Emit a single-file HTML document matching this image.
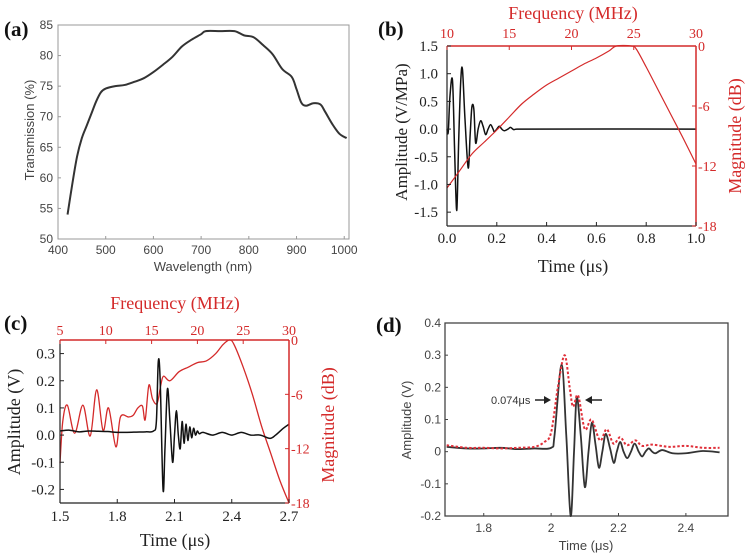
<!DOCTYPE html>
<html><head><meta charset="utf-8"><style>
html,body{margin:0;padding:0;background:#fff}
svg{display:block}
.sans{font-family:"Liberation Sans",sans-serif}
.serif{font-family:"Liberation Serif",serif}
</style></head><body>
<svg id="fig" width="748" height="557" viewBox="0 0 748 557" xmlns="http://www.w3.org/2000/svg">
<text x="4" y="36" class="serif" font-size="21" font-weight="bold" fill="#111">(a)</text>
<text x="378" y="36" class="serif" font-size="21" font-weight="bold" fill="#111">(b)</text>
<text x="4" y="330" class="serif" font-size="21" font-weight="bold" fill="#111">(c)</text>
<text x="376" y="332" class="serif" font-size="21" font-weight="bold" fill="#111">(d)</text>
<g id="pa"></g>
<g id="pb"></g>
<g id="pc"></g>
<g id="pd"></g>
</svg>
<script>
// ---- Panel (a) data
const aWavelength=[420,430,440,450,460,470,480,490,500,520,540,560,580,600,620,640,660,680,700,710,740,770,790,810,830,850,870,890,900,910,920,935,950,960,975,990,1005];
const aTransmission=[54,59,63.5,66.5,68.5,70.5,72.5,74,74.6,75,75.2,75.7,76.3,77.3,78.5,79.8,81.5,82.6,83.5,84,84,84,83.3,83,81.7,80.2,77.8,76.5,74.5,72.3,71.8,72.2,72,70.8,68.8,67.2,66.5];
const aXTicks=[400,500,600,700,800,900,1000];
const aYTicks=[50,55,60,65,70,75,80,85];
// ---- Panel (b) data
const bTime=[0,0.005,0.012,0.022,0.03,0.035,0.04,0.047,0.055,0.062,0.072,0.085,0.093,0.1,0.108,0.115,0.125,0.135,0.145,0.155,0.165,0.175,0.185,0.19,0.2,0.21,0.22,0.23,0.245,0.255,0.268,0.28,1.0];
const bAmp=[0,-0.05,0.6,0.88,-0.3,-1.1,-1.43,-0.2,0.85,1.08,0.2,-0.7,-0.1,0.4,0.35,-0.25,0.0,0.15,0.05,-0.1,0.0,0.08,0.0,-0.05,0.0,0.05,0.0,-0.03,0.0,0.03,-0.01,0,0];
const bFreq=[10,11,12,13,14,15,16,17,18,19,20,21,22,23,23.6,24.8,25.2,26,27,28,29,30];
const bMag=[-14.2,-12.5,-10.8,-9.6,-8.4,-7.1,-5.8,-4.8,-3.9,-3.2,-2.5,-1.8,-1.2,-0.5,0,0,-0.3,-2.1,-4.5,-6.9,-9.3,-11.8];
const bXTicks=[0,0.2,0.4,0.6,0.8,1.0];
const bYTicks=[-1.5,-1.0,-0.5,0.0,0.5,1.0,1.5];
const bFTicks=[10,15,20,25,30];
const bDbTicks=[0,-6,-12,-18];
// ---- Panel (c) data
const cTime=[1.5,1.55,1.6,1.65,1.7,1.75,1.8,1.85,1.9,1.95,1.99,2.005,2.015,2.025,2.04,2.05,2.063,2.076,2.09,2.1,2.11,2.12,2.13,2.14,2.15,2.16,2.17,2.18,2.19,2.2,2.21,2.22,2.23,2.25,2.3,2.35,2.4,2.45,2.5,2.55,2.6,2.63,2.67,2.7];
const cAmp=[0.015,0.018,0.012,0.015,0.014,0.013,0.01,0.01,0.011,0.012,0.015,0.05,0.27,0.2,-0.2,-0.05,0.17,0.05,-0.1,0.0,0.09,0.0,-0.05,0.05,-0.03,0.04,-0.02,0.03,-0.01,0.025,0.0,0.015,0.005,0.01,0.0,0.01,0.0,0.01,0.0,0.0,-0.012,0.0,0.025,0.04];
const cFreq=[5,5.3,5.8,6.6,7.5,8.3,9,9.7,10.3,11.1,11.6,12.5,13,13.5,14,14.3,14.7,15.1,15.6,16,16.3,17,18,19,20,21,22,22.8,23.5,24,25,26,27,28,29,30];
const cMag=[-13.6,-9,-7.2,-10.3,-7.2,-10.6,-5.5,-10,-7.5,-11.8,-8.5,-8.5,-8.3,-7.5,-7.3,-8.8,-5.0,-6.5,-7,-5,-4,-4.5,-3.5,-3,-2.5,-2.3,-1.5,-0.5,0,-0.5,-3,-6,-9.5,-12.5,-15.5,-18];
const cXTicks=[1.5,1.8,2.1,2.4,2.7];
const cYTicks=[-0.2,-0.1,0.0,0.1,0.2,0.3];
const cFTicks=[5,10,15,20,25,30];
const cDbTicks=[0,-6,-12,-18];
// ---- Panel (d) data
const dTime=[1.69,1.75,1.8,1.85,1.9,1.95,2.0,2.01,2.031,2.045,2.058,2.068,2.076,2.088,2.1,2.111,2.121,2.132,2.142,2.152,2.162,2.175,2.186,2.195,2.205,2.215,2.226,2.237,2.248,2.26,2.27,2.28,2.29,2.3,2.31,2.33,2.36,2.4,2.45,2.5];
const dAmp=[0.015,0.01,0.01,0.012,0.008,0.01,0.012,0.05,0.27,0.05,-0.2,0.0,0.17,0.05,-0.11,0.0,0.09,0.02,-0.05,0.0,0.055,0.01,-0.035,0.0,0.03,0.0,-0.02,0.0,0.025,0.0,-0.015,0.0,0.01,0.0,-0.005,0.005,-0.005,-0.005,0.002,-0.002];
const dRedTime=[1.69,1.75,1.8,1.85,1.9,1.95,1.98,2.0,2.02,2.04,2.055,2.065,2.08,2.1,2.12,2.145,2.165,2.185,2.205,2.225,2.25,2.27,2.3,2.35,2.4,2.45,2.5];
const dRedAmp=[0.02,0.012,0.012,0.01,0.012,0.015,0.03,0.06,0.2,0.3,0.2,0.14,0.175,0.07,0.1,0.035,0.07,0.025,0.045,0.02,0.035,0.018,0.022,0.015,0.018,0.012,0.012];
const dXTicks=[1.8,2.0,2.2,2.4];
const dXTickLabels=["1.8","2","2.2","2.4"];
const dYTicks=[-0.2,-0.1,0,0.1,0.2,0.3,0.4];
const dYTickLabels=["-0.2","-0.1","0","0.1","0.2","0.3","0.4"];

const NS="http://www.w3.org/2000/svg";
function mk(parent,tag,attrs,text){const e=document.createElementNS(NS,tag);for(const k in attrs)e.setAttribute(k,attrs[k]);if(text!==undefined)e.textContent=text;parent.appendChild(e);return e;}
function lin(d0,d1,r0,r1){return v=>r0+(v-d0)/(d1-d0)*(r1-r0);}
function pathD(xs,ys,fx,fy){
 const P=xs.map((x,i)=>[fx(x),fy(ys[i])]);
 let d='M'+P[0][0].toFixed(2)+','+P[0][1].toFixed(2);
 for(let i=0;i<P.length-1;i++){
  const p0=P[Math.max(i-1,0)],p1=P[i],p2=P[i+1],p3=P[Math.min(i+2,P.length-1)];
  let c1x=p1[0]+(p2[0]-p0[0])/6,c1y=p1[1]+(p2[1]-p0[1])/6;
  let c2x=p2[0]-(p3[0]-p1[0])/6,c2y=p2[1]-(p3[1]-p1[1])/6;
  c1x=Math.min(Math.max(c1x,p1[0]),p2[0]);c2x=Math.min(Math.max(c2x,p1[0]),p2[0]);
  d+='C'+c1x.toFixed(2)+','+c1y.toFixed(2)+' '+c2x.toFixed(2)+','+c2y.toFixed(2)+' '+p2[0].toFixed(2)+','+p2[1].toFixed(2);
 }
 return d;}
const RED="#d42a2a";

// ===== Panel A
(function(){
const g=document.getElementById('pa');
const L=58,R=349,T=25,B=239;
const x=lin(400,1010,L,R), y=lin(50,85,B,T);
const box=mk(g,'rect',{x:L,y:T,width:R-L,height:B-T,fill:'none',stroke:'#999','stroke-width':1});


aXTicks.forEach(v=>{mk(g,'line',{x1:x(v),x2:x(v),y1:B,y2:B-3,stroke:'#999'});
 const t=mk(g,'text',{x:x(v),y:254,'text-anchor':'middle','font-size':12,fill:'#444',class:'sans'},String(v));
 
 });
aYTicks.forEach(v=>{mk(g,'line',{x1:L,x2:L+3,y1:y(v),y2:y(v),stroke:'#999'});
 const t=mk(g,'text',{x:53,y:y(v)+4,'text-anchor':'end','font-size':12,fill:'#444',class:'sans'},String(v));
 
 });
const xl=mk(g,'text',{x:203,y:271,'text-anchor':'middle','font-size':13,fill:'#444',class:'sans'},'Wavelength (nm)');


const yl=mk(g,'text',{x:0,y:0,transform:'translate(34,130) rotate(-90)','text-anchor':'middle','font-size':13,fill:'#444',class:'sans'},'Transmission (%)');


const p=mk(g,'path',{d:pathD(aWavelength,aTransmission,x,y),fill:'none',stroke:'#333','stroke-width':2,'stroke-linejoin':'round'});


})();

// ===== Panel B
(function(){
const g=document.getElementById('pb');
const L=447,R=696,T=46,B=226;
const x=lin(0,1,L,R), y=lin(-1.75,1.5,B,T), xf=lin(10,30,L,R), yd=lin(-18,0,B,T);
const blk=mk(g,'path',{d:pathD(bTime,bAmp,x,y),fill:'none',stroke:'#111','stroke-width':1.5});


const red=mk(g,'path',{d:pathD(bFreq,bMag,xf,yd),fill:'none',stroke:RED,'stroke-width':1.2});


mk(g,'line',{x1:L,x2:L,y1:T,y2:B,stroke:'#222','stroke-width':1.2});
mk(g,'line',{x1:L,x2:R,y1:B,y2:B,stroke:'#222','stroke-width':1.2});
mk(g,'line',{x1:L,x2:R,y1:T,y2:T,stroke:RED,'stroke-width':1.5});
mk(g,'line',{x1:R,x2:R,y1:T,y2:B,stroke:RED,'stroke-width':1.5});
bXTicks.forEach(v=>{mk(g,'line',{x1:x(v),x2:x(v),y1:B,y2:B-4,stroke:'#222'});
 const t=mk(g,'text',{x:x(v),y:243,'text-anchor':'middle','font-size':15,fill:'#222',class:'serif'},v.toFixed(1));
 
 });
bYTicks.forEach(v=>{mk(g,'line',{x1:L,x2:L+4,y1:y(v),y2:y(v),stroke:'#222'});
 const t=mk(g,'text',{x:438,y:y(v)+5,'text-anchor':'end','font-size':15,fill:'#222',class:'serif'},v.toFixed(1));
 
 });
bFTicks.forEach(v=>{mk(g,'line',{x1:xf(v),x2:xf(v),y1:T,y2:T+4,stroke:RED});
 const t=mk(g,'text',{x:xf(v),y:38,'text-anchor':'middle','font-size':14,fill:RED,class:'serif'},String(v));
 
 });
bDbTicks.forEach(v=>{mk(g,'line',{x1:R,x2:R-4,y1:yd(v),y2:yd(v),stroke:RED});
 const t=mk(g,'text',{x:698,y:yd(v)+5,'text-anchor':'start','font-size':14,fill:RED,class:'serif'},String(v));
 
 });
const ft=mk(g,'text',{x:573,y:19,'text-anchor':'middle','font-size':18,fill:RED,class:'serif'},'Frequency (MHz)');


const tt=mk(g,'text',{x:573,y:272,'text-anchor':'middle','font-size':18,fill:'#222',class:'serif'},'Time (μs)');


const yt=mk(g,'text',{x:0,y:0,transform:'translate(407,132) rotate(-90)','text-anchor':'middle','font-size':17,fill:'#222',class:'serif'},'Amplitude (V/MPa)');


const mt=mk(g,'text',{x:0,y:0,transform:'translate(741,136) rotate(-90)','text-anchor':'middle','font-size':18,fill:RED,class:'serif'},'Magnitude (dB)');


})();

// ===== Panel C
(function(){
const g=document.getElementById('pc');
const L=60,R=289,T=340,B=503;
const x=lin(1.5,2.7,L,R), y=lin(-0.25,0.35,B,T), xf=lin(5,30,L,R), yd=lin(-18,0,B,T);
const red=mk(g,'path',{d:pathD(cFreq,cMag,xf,yd),fill:'none',stroke:RED,'stroke-width':1.3});


const blk=mk(g,'path',{d:pathD(cTime,cAmp,x,y),fill:'none',stroke:'#111','stroke-width':1.5});


mk(g,'line',{x1:L,x2:L,y1:T,y2:B,stroke:'#222','stroke-width':1.2});
mk(g,'line',{x1:L,x2:R,y1:B,y2:B,stroke:'#222','stroke-width':1.2});
mk(g,'line',{x1:L,x2:R,y1:T,y2:T,stroke:RED,'stroke-width':1.5});
mk(g,'line',{x1:R,x2:R,y1:T,y2:B,stroke:RED,'stroke-width':1.5});
cXTicks.forEach(v=>{mk(g,'line',{x1:x(v),x2:x(v),y1:B,y2:B-4,stroke:'#222'});
 const t=mk(g,'text',{x:x(v),y:521,'text-anchor':'middle','font-size':15,fill:'#222',class:'serif'},v.toFixed(1));
 
 });
cYTicks.forEach(v=>{mk(g,'line',{x1:L,x2:L+4,y1:y(v),y2:y(v),stroke:'#222'});
 const t=mk(g,'text',{x:55,y:y(v)+5,'text-anchor':'end','font-size':15,fill:'#222',class:'serif'},v.toFixed(1));
 
 });
cFTicks.forEach(v=>{mk(g,'line',{x1:xf(v),x2:xf(v),y1:T,y2:T+4,stroke:RED});
 const t=mk(g,'text',{x:xf(v),y:335,'text-anchor':'middle','font-size':14,fill:RED,class:'serif'},String(v));
 
 });
cDbTicks.forEach(v=>{mk(g,'line',{x1:R,x2:R-4,y1:yd(v),y2:yd(v),stroke:RED});
 const t=mk(g,'text',{x:291,y:yd(v)+5,'text-anchor':'start','font-size':14,fill:RED,class:'serif'},String(v));
 
 });
const ft=mk(g,'text',{x:175,y:309,'text-anchor':'middle','font-size':18,fill:RED,class:'serif'},'Frequency (MHz)');


const tt=mk(g,'text',{x:175,y:546,'text-anchor':'middle','font-size':18,fill:'#222',class:'serif'},'Time (μs)');


const yt=mk(g,'text',{x:0,y:0,transform:'translate(20,422) rotate(-90)','text-anchor':'middle','font-size':18,fill:'#222',class:'serif'},'Amplitude (V)');


const mt=mk(g,'text',{x:0,y:0,transform:'translate(334,425) rotate(-90)','text-anchor':'middle','font-size':18,fill:RED,class:'serif'},'Magnitude (dB)');


})();

// ===== Panel D
(function(){
const g=document.getElementById('pd');
const L=445,R=728,T=323,B=516;
const x=lin(1.685,2.525,L,R), y=lin(-0.2,0.4,B,T);
const box=mk(g,'rect',{x:L,y:T,width:R-L,height:B-T,fill:'none',stroke:'#444','stroke-width':1.3});


dXTicks.forEach((v,i)=>{mk(g,'line',{x1:x(v),x2:x(v),y1:B,y2:B-3,stroke:'#444'});
 const t=mk(g,'text',{x:x(v),y:532,'text-anchor':'middle','font-size':12,fill:'#444',class:'sans'},dXTickLabels[i]);
 
 });
dYTicks.forEach((v,i)=>{mk(g,'line',{x1:L,x2:L+3,y1:y(v),y2:y(v),stroke:'#444'});
 const t=mk(g,'text',{x:441,y:y(v)+4,'text-anchor':'end','font-size':12,fill:'#444',class:'sans'},dYTickLabels[i]);
 
 });
const blk=mk(g,'path',{d:pathD(dTime,dAmp,x,y),fill:'none',stroke:'#333','stroke-width':1.8,'stroke-linejoin':'round'});


const red=mk(g,'path',{d:pathD(dRedTime,dRedAmp,x,y),fill:'none',stroke:'#e0303a','stroke-width':2,'stroke-dasharray':'2.5,2'});


const an=mk(g,'text',{x:491,y:404,'text-anchor':'start','font-size':11,fill:'#333',class:'sans'},'0.074μs');


mk(g,'line',{x1:535,x2:549,y1:400,y2:400,stroke:'#222','stroke-width':1.5});
mk(g,'path',{d:'M551,400 L544,396 L544,404 Z',fill:'#222'});
mk(g,'line',{x1:588,x2:602,y1:400,y2:400,stroke:'#222','stroke-width':1.5});
mk(g,'path',{d:'M585,400 L592,396 L592,404 Z',fill:'#222'});
const tt=mk(g,'text',{x:586,y:550,'text-anchor':'middle','font-size':13,fill:'#444',class:'sans'},'Time (μs)');


const yt=mk(g,'text',{x:0,y:0,transform:'translate(411,420) rotate(-90)','text-anchor':'middle','font-size':13,fill:'#444',class:'sans'},'Amplitude (V)');


})();
</script>
</body></html>
